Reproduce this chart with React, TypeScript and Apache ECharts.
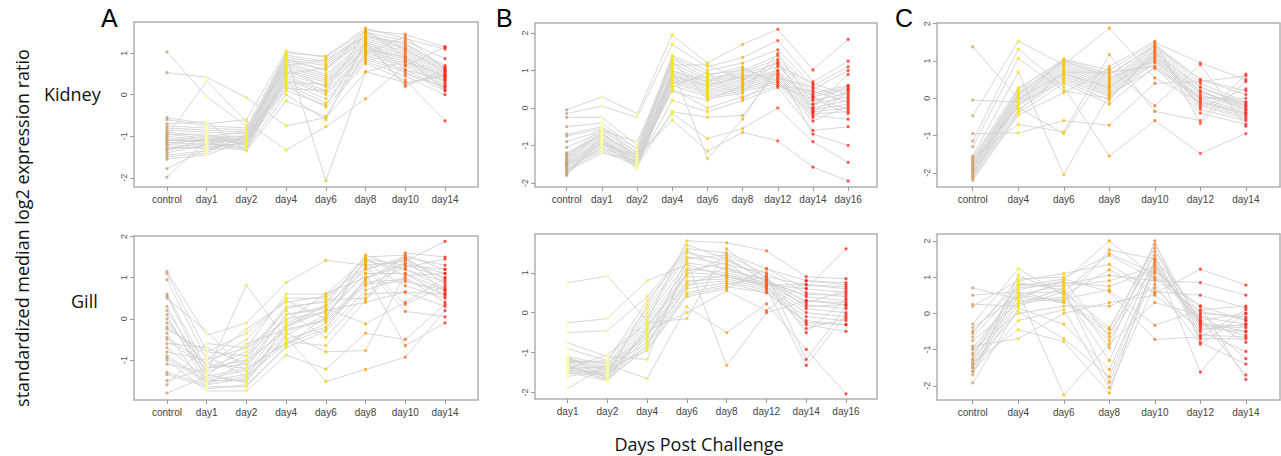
import React, { useEffect, useRef } from "react";
import * as echarts from "echarts";

// ---------- categories ----------
const catsA = ["control", "day1", "day2", "day4", "day6", "day8", "day10", "day14"];
const catsBKidney = ["control", "day1", "day2", "day4", "day6", "day8", "day12", "day14", "day16"];
const catsBGill = ["day1", "day2", "day4", "day6", "day8", "day12", "day14", "day16"];
const catsC = ["control", "day4", "day6", "day8", "day10", "day12", "day14"];

// ---------- point colours per category ----------
const colorsAKidney = ["#D2A06A", "#FFFF99", "#F2EE50", "#F5E800", "#F8C800", "#FFA500", "#FF6A20", "#FF2A20"];
const colorsAGill = ["#D2A06A", "#FFFF99", "#F2EE50", "#F5E800", "#F8C800", "#FFA500", "#FF6A20", "#FF2A20"];
const colorsBKidney = ["#C8A070", "#FFFFA0", "#F8F8A0", "#F5E800", "#F5D800", "#FFB300", "#FF4A20", "#FF2A20", "#FF3020"];
const colorsBGill = ["#FFFFA0", "#FFFF90", "#F5EE30", "#FFD000", "#FFA800", "#FF6020", "#FF2A20", "#FF2A20"];
const colorsCKidney = ["#D2A06A", "#F5E800", "#F8C800", "#FFA500", "#FF7020", "#FF4A30", "#FF3030"];
const colorsCGill = ["#D2A06A", "#F5E800", "#F8C800", "#FFA000", "#FF7A20", "#FF3020", "#FF2A20"];

// ---------- y tick values ----------
const ticksAKidney = [-2, -1, 0, 1];
const ticksAGill = [-1, 0, 1, 2];
const ticksBKidney = [-2, -1, 0, 1, 2];
const ticksBGill = [-2, -1, 0, 1];
const ticksCKidney = [-2, -1, 0, 1, 2];
const ticksCGill = [-2, -1, 0, 1, 2];

// ---------- gene profiles (standardized median log2 ratio) ----------
const kidneyA: number[][] = [
  [1.03, -0.05, -0.75, 0.6, 0.2, 1.1, 0.9, 0.4],
  [0.53, 0.42, -0.07, -0.75, -0.55, 0.55, 0.8, 0.45],
  [-0.55, -0.7, -0.6, 1.05, 0.9, 1.55, 1.45, 1.15],
  [-0.6, -0.75, -0.8, 1.0, 0.93, 1.6, 1.35, 1.1],
  [-0.8, -0.85, -0.9, 0.95, 0.8, 1.5, 1.3, 0.87],
  [-0.85, -0.9, -0.95, 0.9, 0.75, 1.45, 1.2, 0.7],
  [-0.9, -1.0, -1.0, 0.85, 0.7, 1.4, 1.15, 0.65],
  [-0.95, -1.05, -1.05, 0.8, 0.6, 1.35, 1.1, 0.6],
  [-1.0, -1.1, -1.1, 0.75, 0.5, 1.3, 1.05, 0.55],
  [-1.05, -1.15, -1.1, 0.7, 0.45, 1.25, 1.0, 0.5],
  [-1.1, -1.1, -1.15, 0.65, 0.4, 1.2, 0.95, 0.45],
  [-1.15, -1.2, -1.2, 0.6, 0.35, 1.15, 0.9, 0.4],
  [-1.2, -1.25, -1.25, 0.55, 0.3, 1.1, 0.85, 0.35],
  [-1.25, -1.3, -1.3, 0.5, 0.2, 1.05, 0.8, 0.3],
  [-1.3, -1.15, -1.35, 0.45, 0.1, 1.0, 0.75, 0.25],
  [-1.35, -1.05, -1.2, 0.4, 0.05, 0.95, 0.7, 0.2],
  [-1.4, -1.2, -1.05, 0.35, 0.0, 0.9, 0.6, 0.15],
  [-1.45, -1.35, -1.0, 0.3, -0.1, 0.85, 0.55, 0.1],
  [-1.5, -1.4, -0.95, 0.25, -0.2, 0.8, 0.45, 0.0],
  [-1.55, -1.45, -1.1, 0.2, -0.3, 0.75, 0.35, -0.63],
  [-1.78, -1.3, -1.15, 0.1, -0.25, 1.2, 0.25, 0.5],
  [-1.98, -1.1, -1.3, 0.0, -0.6, 1.3, 0.2, 0.6],
  [-1.0, 0.33, -0.65, -1.33, -0.77, -0.1, 0.7, 1.15],
  [-0.7, -0.65, -1.35, -0.15, -0.52, 1.0, 1.4, 0.6],
  [-1.1, -1.0, -0.9, 0.95, -2.07, 0.55, 0.3, 0.45],
  [-1.2, -1.05, -1.0, 0.85, 0.6, 1.55, 0.9, 0.1],
  [-0.75, -0.8, -0.85, 0.7, 0.85, 1.4, 1.25, 0.65],
  [-1.3, -1.25, -1.15, 0.5, 0.65, 1.35, 0.6, 0.35],
  [-0.95, -0.95, -1.2, 0.3, 0.25, 1.25, 0.5, 0.2],
  [-1.15, -1.1, -1.05, 0.15, 0.1, 1.5, 1.1, 0.55],
];

const gillA: number[][] = [
  [1.15, -0.4, -0.1, 0.88, 1.42, 1.3, 1.4, 1.88],
  [1.1, -0.8, -0.9, 0.3, 0.4, 1.5, 1.55, 1.2],
  [0.95, -1.0, -0.7, 0.6, 0.6, 1.45, 1.3, 1.0],
  [0.6, -1.2, -1.1, -0.2, 0.2, 1.4, 1.2, 0.9],
  [0.5, -0.3, -1.3, -0.1, 0.3, 1.2, 1.5, 1.3],
  [0.3, -1.5, -1.5, -0.4, 0.1, 1.1, 1.1, 0.7],
  [0.2, -1.3, 0.82, -0.5, -0.2, 1.0, 1.35, 1.1],
  [0.1, -1.6, -1.0, -0.3, 0.0, 0.9, 0.95, 0.6],
  [0.0, -1.4, -1.2, -0.6, -0.1, 0.8, 1.25, 1.45],
  [-0.1, -1.1, -0.5, 0.5, 0.5, 1.35, 0.8, 0.5],
  [-0.2, -0.9, -1.4, -0.2, 0.35, 1.55, 1.2, 0.75],
  [-0.35, -1.7, -1.6, -0.7, -0.3, 0.7, 1.0, 0.4],
  [-0.5, -1.2, -0.8, 0.2, -0.45, 0.6, 0.65, 0.3],
  [-0.6, -0.7, -1.1, 0.1, 0.25, -0.12, 0.4, 1.0],
  [-0.7, -1.45, -1.25, -0.55, -0.65, 0.45, 1.45, 0.65],
  [-0.8, -1.0, -0.25, 0.4, 0.55, 1.25, 0.18, 0.05],
  [-0.9, -1.5, -1.35, -0.35, -0.8, -0.77, 1.1, 0.55],
  [-1.0, -1.75, -1.75, -0.88, -1.22, -0.35, -0.5, 0.35],
  [-1.1, -1.3, -0.9, 0.0, 0.15, 1.1, -0.65, -0.1],
  [-1.3, -1.6, -1.45, -0.45, -1.52, -1.23, -0.93, 0.2],
  [-1.35, -1.65, -1.65, -0.65, 0.05, 1.3, 0.35, 0.8],
  [-1.5, -1.2, -1.0, 0.25, 0.45, 0.5, 1.6, 1.5],
  [-1.6, -0.6, -0.7, -0.05, 0.62, 1.0, 1.3, 1.2],
  [-1.8, -1.4, -0.6, -0.25, -0.05, 0.85, 0.9, 0.7],
  [-0.45, -1.1, -1.2, 0.1, 0.3, 1.2, 1.45, 0.95],
  [0.55, -1.35, -1.55, -0.15, 0.2, 0.4, 0.65, 0.6],
  [-0.25, -0.8, -0.35, 0.45, 0.0, 1.45, 1.05, 1.1],
  [-0.95, -1.55, -1.4, -0.6, -0.25, 0.95, 1.5, 0.85],
];

const kidneyB: number[][] = [
  [-0.05, 0.3, -0.15, 1.95, 1.2, 1.7, 2.1, 1.02, 1.83],
  [-0.15, 0.05, -0.25, 1.7, 1.1, 1.35, 1.8, 0.7, 1.25],
  [-0.25, -0.25, -1.0, 1.4, 1.0, 1.2, 1.55, 0.6, 1.1],
  [-0.5, -0.4, -1.1, 1.35, 0.9, 1.0, 1.4, 0.5, 1.0],
  [-0.7, -0.5, -1.2, 1.3, 0.8, 0.95, 1.3, 0.4, 0.6],
  [-0.75, -0.55, -1.3, 1.2, 0.75, 0.9, 1.2, 0.35, 0.55],
  [-0.9, -0.6, -0.9, 1.1, 0.7, 0.85, 1.1, 0.3, 0.5],
  [-1.05, -0.65, -1.35, 1.0, 0.65, 0.8, 1.0, 0.2, 0.4],
  [-1.2, -0.7, -1.4, 0.95, 0.6, 0.75, 0.95, 0.1, 0.3],
  [-1.25, -0.75, -1.45, 0.9, 0.55, 0.7, 0.9, 0.0, 0.2],
  [-1.3, -0.8, -1.5, 0.85, 0.5, 0.65, 0.85, -0.05, 0.1],
  [-1.35, -0.85, -1.55, 0.8, 0.45, 0.6, 0.8, -0.1, 0.0],
  [-1.4, -0.9, -1.6, 0.75, 0.4, 0.55, 0.75, -0.15, -0.1],
  [-1.45, -0.95, -1.35, 0.7, 0.35, 0.5, 0.7, -0.2, -0.3],
  [-1.5, -1.0, -1.25, 0.6, 0.3, 0.45, 0.65, -0.35, 0.05],
  [-1.55, -1.05, -1.45, 0.5, 0.0, 0.3, 0.6, 0.45, 0.15],
  [-1.6, -1.1, -1.5, 0.2, -0.1, 0.2, 0.55, -0.6, -0.5],
  [-1.65, -1.15, -1.55, -0.1, -0.25, -0.2, 1.0, -0.7, -1.0],
  [-1.7, -1.2, -1.4, -0.15, -0.82, -0.55, 0.0, -0.9, -1.45],
  [-1.75, -0.7, -1.3, -0.32, -1.15, -0.65, -0.88, -1.58, -1.95],
  [-1.8, -0.8, -1.5, 1.05, -1.35, -0.3, 1.15, 0.65, 0.35],
  [-1.45, -0.6, -1.2, 1.15, 1.15, 0.75, 1.25, -0.1, 0.5],
  [-1.55, -0.95, -1.6, 0.65, 0.85, 1.1, 0.6, 0.25, -0.15],
  [-1.35, -0.5, -1.1, 1.25, 0.25, 0.4, 1.45, 0.1, 0.6],
  [-1.65, -1.05, -1.45, 0.55, 0.95, 0.25, 0.8, 0.55, 0.25],
  [-1.25, -0.7, -1.25, 1.0, 0.7, 1.05, 0.7, -0.25, 0.45],
  [-1.75, -0.9, -1.35, 0.45, 0.2, 0.6, 1.2, 0.0, 0.9],
  [-1.5, -0.85, -1.5, 0.85, 0.6, 0.85, 0.9, 0.3, -0.05],
];

const gillB: number[][] = [
  [0.75, 0.92, -0.2, 1.8, 1.75, 1.55, 0.9, 0.85],
  [-0.25, -0.15, 0.8, 1.2, 0.9, 0.7, 0.6, 0.5],
  [-0.5, -0.45, 0.4, 1.6, 1.5, 1.1, 0.8, 0.75],
  [-0.75, -1.1, -1.17, 1.3, -1.32, 0.0, 0.3, 0.2],
  [-0.9, -1.2, 0.1, 1.5, 1.3, 0.9, 0.7, 0.6],
  [-1.1, -1.3, 0.0, 1.4, 1.2, 1.0, 0.5, 0.4],
  [-1.15, -1.35, -0.1, 1.25, 1.1, 0.8, 0.4, 0.3],
  [-1.2, -1.4, -0.2, 1.1, 1.0, 0.75, 0.3, 0.25],
  [-1.25, -1.45, -0.3, 1.0, 0.95, 0.7, 0.2, 0.1],
  [-1.3, -1.5, -0.4, 0.9, 0.9, 0.65, 0.1, 0.0],
  [-1.35, -1.55, -0.5, 0.8, 0.85, 0.6, 0.0, -0.1],
  [-1.4, -1.6, -0.6, 0.7, 0.8, 0.55, -0.1, -0.2],
  [-1.45, -1.65, -0.7, 0.6, 0.75, 0.5, -0.2, -0.3],
  [-1.5, -1.7, -0.8, 0.5, 0.7, 0.9, -0.3, -0.47],
  [-1.6, -1.4, -0.95, 0.4, 0.6, 1.1, 0.6, 1.6],
  [-1.9, -1.3, -1.65, 0.15, -0.5, 0.22, -0.92, -2.03],
  [-1.4, -1.05, -0.25, -0.15, 1.6, 0.85, -0.5, 0.35],
  [-1.35, -1.6, -0.45, 0.0, 0.55, 0.05, 0.8, 0.7],
  [-1.2, -1.25, -0.65, 1.35, 1.45, 0.95, -1.17, 0.15],
  [-1.45, -1.5, -0.85, 1.05, 1.25, 0.6, -1.32, -0.05],
  [-1.3, -1.7, -0.35, 0.95, 1.4, 0.75, 0.45, 0.45],
  [-1.25, -1.2, 0.3, 1.55, 1.05, 0.85, 0.25, 0.55],
  [-1.15, -1.45, -0.55, 0.75, 0.95, 0.65, -0.4, -0.15],
  [-1.4, -1.35, -0.75, 0.65, 1.15, 0.7, 0.7, 0.65],
  [-1.5, -1.55, 0.2, 1.7, 1.35, 0.8, 0.15, 0.2],
  [-1.1, -1.65, -0.9, 0.45, 0.65, 0.5, -0.25, -0.3],
];

const kidneyC: number[][] = [
  [1.38, 0.0, 0.65, 0.3, 1.1, 0.2, -0.3],
  [-0.05, -0.1, 1.05, 0.75, 1.5, 0.95, 0.5],
  [-0.47, 1.53, 0.9, 1.88, 0.55, -0.1, -0.4],
  [-0.95, -0.93, -0.6, -0.72, 0.4, 0.45, 0.6],
  [-1.15, 1.32, 0.3, -1.55, -0.6, -1.48, -0.95],
  [-1.3, 1.07, 0.2, 0.0, 1.2, 0.3, -0.2],
  [-1.55, 0.7, -2.05, 0.1, 0.8, 0.0, 0.0],
  [-1.6, 0.28, 1.0, 0.6, 1.45, 0.5, 0.2],
  [-1.65, 0.2, 0.95, 0.5, 1.4, 0.4, -0.1],
  [-1.7, 0.15, 0.9, 0.45, 1.35, 0.3, -0.15],
  [-1.75, 0.1, 0.85, 0.4, 1.3, 0.2, -0.25],
  [-1.8, 0.05, 0.8, 0.35, 1.25, 0.1, -0.3],
  [-1.85, 0.0, 0.75, 0.3, 1.2, 0.0, -0.35],
  [-1.9, -0.05, 0.7, 0.25, 1.15, -0.05, -0.4],
  [-1.95, -0.1, 0.65, 0.2, 1.1, -0.1, -0.45],
  [-2.0, -0.15, 0.6, 0.15, 1.05, -0.15, -0.5],
  [-2.05, -0.2, 0.55, 0.1, 1.0, -0.2, -0.55],
  [-2.1, -0.3, 0.5, 0.05, 0.95, -0.3, -0.6],
  [-2.15, -0.4, 0.4, -0.15, 0.85, -0.4, -0.7],
  [-2.2, -0.45, 0.15, 0.8, -0.2, 0.9, -0.75],
  [-1.6, -0.7, -0.9, 1.17, -0.35, -0.6, 0.65],
  [-1.7, -0.25, -0.95, 0.85, 1.53, -0.67, 0.45],
  [-1.9, 0.25, 1.05, 0.65, 1.4, 0.5, 0.1],
  [-2.0, -0.35, 0.7, 0.7, 0.85, 0.05, -0.1],
  [-1.8, -0.15, 0.45, -0.05, 1.3, -0.25, 0.25],
  [-2.1, 0.1, 1.0, 0.55, 1.0, 0.15, -0.2],
];

const gillC: number[][] = [
  [0.7, 0.4, 0.9, 2.0, 1.0, 0.2, -0.2],
  [0.5, 0.6, 0.3, 1.75, 1.5, 0.0, -0.1],
  [0.25, 0.2, 0.6, 1.65, 1.1, -0.2, 0.0],
  [0.2, 0.9, 1.1, 1.35, 0.6, 0.5, 0.15],
  [-0.3, 1.23, 0.5, 1.2, 0.55, 1.22, 0.78],
  [-0.4, 0.5, 0.8, 1.05, 0.9, 0.85, 0.5],
  [-0.5, 0.8, 0.75, 0.9, 1.3, -0.3, -0.6],
  [-0.65, 0.7, 0.85, 0.75, 1.2, -0.1, -0.3],
  [-0.75, 0.3, 0.4, 0.65, -0.33, 0.1, 0.2],
  [-0.9, -0.7, 0.0, 0.3, 0.5, -0.4, -0.5],
  [-1.0, 0.0, 0.2, 0.2, 0.7, -0.5, -1.05],
  [-1.15, 0.55, 0.6, -0.4, 1.8, -0.6, -0.65],
  [-1.3, 0.45, 0.3, -0.55, 1.6, -0.7, -0.7],
  [-1.4, 0.65, 0.9, -0.65, 1.7, -0.2, -1.25],
  [-1.5, 0.35, 0.45, -0.75, 1.4, -0.35, -0.4],
  [-1.6, 0.25, 0.7, -0.95, 2.0, -0.8, -1.4],
  [-1.7, 1.05, 0.55, -1.3, 1.5, -0.45, -0.3],
  [-1.92, 0.15, -0.3, -1.55, 1.25, -0.15, -1.7],
  [-1.45, 0.05, -0.7, -1.75, 1.35, -0.25, -0.5],
  [-1.25, 0.85, 0.65, -1.9, 1.15, 0.2, -1.82],
  [-1.6, -0.2, 0.1, -2.05, 0.8, -0.85, 0.0],
  [-1.35, -0.45, -0.78, -2.2, 1.45, -1.62, -0.2],
  [-0.95, 0.6, -2.25, -0.85, 0.3, -0.05, -0.8],
  [-1.1, 0.75, 0.95, 0.6, -0.72, -0.65, 0.1],
  [-1.5, 0.5, 0.35, -0.45, 1.9, -0.3, -0.35],
  [-0.55, 0.95, 1.0, 1.6, 0.95, 0.05, -0.15],
];

// ---------- panel layout ----------
const panels = [
  { cats: catsA, profiles: kidneyA, colors: colorsAKidney, ticks: ticksAKidney,
    box: { left: 134, top: 22, width: 344, height: 165 }, x: [-0.83, 7.83], y: [-2.22, 1.75] },
  { cats: catsA, profiles: gillA, colors: colorsAGill, ticks: ticksAGill,
    box: { left: 134, top: 236, width: 344, height: 164 }, x: [-0.83, 7.83], y: [-1.97, 2.01] },
  { cats: catsBKidney, profiles: kidneyB, colors: colorsBKidney, ticks: ticksBKidney,
    box: { left: 535, top: 23, width: 342, height: 164 }, x: [-0.9, 8.82], y: [-2.11, 2.27] },
  { cats: catsBGill, profiles: gillB, colors: colorsBGill, ticks: ticksBGill,
    box: { left: 535, top: 234, width: 342, height: 165 }, x: [-0.82, 7.78], y: [-2.16, 1.97] },
  { cats: catsC, profiles: kidneyC, colors: colorsCKidney, ticks: ticksCKidney,
    box: { left: 937, top: 23, width: 343, height: 164 }, x: [-0.785, 6.75], y: [-2.38, 2.02] },
  { cats: catsC, profiles: gillC, colors: colorsCGill, ticks: ticksCGill,
    box: { left: 937, top: 234, width: 343, height: 166 }, x: [-0.785, 6.75], y: [-2.39, 2.19] },
];

const SANS = "'Open Sans', 'Noto Sans', sans-serif";
const ARIAL = "'Liberation Sans', Arial, sans-serif";

export default function App() {
  const ref = useRef<HTMLDivElement>(null);

  useEffect(() => {
    if (!ref.current) return;
    const chart = echarts.init(ref.current, null, { renderer: "svg" });

    const grid: any[] = [];
    const xAxis: any[] = [];
    const yAxis: any[] = [];
    const series: any[] = [];

    panels.forEach((p, i) => {
      grid.push({
        ...p.box,
        show: true,
        borderColor: "#b0b0b0",
        borderWidth: 1.5,
        backgroundColor: "transparent",
      });
      const idx = p.cats.map((_, k) => k);
      xAxis.push({
        gridIndex: i,
        type: "value",
        min: p.x[0],
        max: p.x[1],
        axisLine: { show: false, onZero: false },
        splitLine: { show: false },
        axisTick: { show: true, customValues: idx, length: 4, lineStyle: { color: "#999" } },
        axisLabel: {
          customValues: idx,
          formatter: (v: number) => p.cats[Math.round(v)] ?? "",
          fontSize: 10,
          color: "#444",
          margin: 7,
          fontFamily: ARIAL,
        },
      });
      yAxis.push({
        gridIndex: i,
        type: "value",
        min: p.y[0],
        max: p.y[1],
        axisLine: { show: false, onZero: false },
        splitLine: { show: false },
        axisTick: { show: true, customValues: p.ticks, length: 4, lineStyle: { color: "#999" } },
        axisLabel: {
          customValues: p.ticks,
          formatter: (v: number) => String(Math.round(v)),
          rotate: 90,
          fontSize: 9,
          color: "#555",
          margin: 6,
          fontFamily: ARIAL,
        },
      });
      p.profiles.forEach((prof) => {
        series.push({
          type: "line",
          xAxisIndex: i,
          yAxisIndex: i,
          data: prof.map((v, k) => [k, v]),
          symbol: "none",
          silent: true,
          lineStyle: { color: "#d2d2d2", width: 0.9 },
          z: 2,
        });
      });
      series.push({
        type: "scatter",
        xAxisIndex: i,
        yAxisIndex: i,
        data: p.profiles.flatMap((prof) => prof.map((v, k) => [k, v])),
        symbol: "circle",
        symbolSize: 3.2,
        itemStyle: { color: (d: any) => p.colors[d.value[0]] },
        z: 3,
      });
    });

    const graphic: any[] = [
      { type: "text", x: 101, y: 5, style: { text: "A", fontSize: 25, fontFamily: ARIAL, fill: "#000" } },
      { type: "text", x: 496, y: 5, style: { text: "B", fontSize: 25, fontFamily: ARIAL, fill: "#000" } },
      { type: "text", x: 895, y: 5, style: { text: "C", fontSize: 25, fontFamily: ARIAL, fill: "#000" } },
      { type: "text", x: 44, y: 94, style: { text: "Kidney", fontSize: 18, fontFamily: SANS, fill: "#111", verticalAlign: "middle" } },
      { type: "text", x: 71, y: 301, style: { text: "Gill", fontSize: 18, fontFamily: SANS, fill: "#111", verticalAlign: "middle" } },
      {
        type: "text", x: 22, y: 228, rotation: Math.PI / 2,
        style: { text: "standardized median log2 expression ratio", fontSize: 18, fontFamily: SANS, fill: "#111", align: "center", verticalAlign: "middle" },
      },
      {
        type: "text", x: 699, y: 444,
        style: { text: "Days Post Challenge", fontSize: 18, fontFamily: SANS, fill: "#111", align: "center", verticalAlign: "middle" },
      },
    ];

    chart.setOption({
      animation: false,
      backgroundColor: "#ffffff",
      grid,
      xAxis,
      yAxis,
      series,
      graphic,
    });

    return () => chart.dispose();
  }, []);

  return (
    <div
      ref={ref}
      style={{ position: "fixed", left: 0, top: 0, width: 1281, height: 456, background: "#fff" }}
    />
  );
}
